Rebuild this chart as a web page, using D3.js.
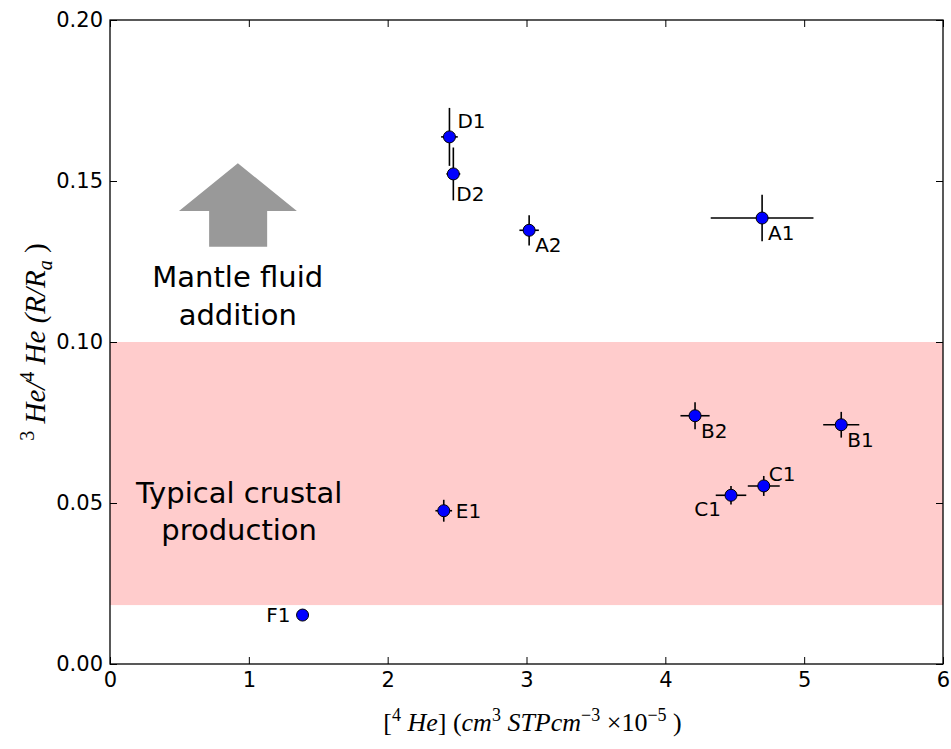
<!DOCTYPE html>
<html>
<head>
<meta charset="utf-8">
<script src="https://cdn.jsdelivr.net/npm/d3@7"></script>
<style>
  body { margin: 0; background: #fff; }
  svg { display: block; }
  .tick text { font-family: "DejaVu Sans", sans-serif; font-size: 21px; fill: #000; }
  .pt-label { font-family: "DejaVu Sans", sans-serif; font-size: 20px; }
  .note { font-family: "DejaVu Sans", sans-serif; font-size: 29px; }
  .math { font-family: "Liberation Serif", serif; font-style: italic; font-size: 26px; }
</style>
</head>
<body>
<script>
var labels = ["D1", "D2", "A2", "A1", "B2", "B1", "C1", "C1", "E1", "F1"]
var heConc = [2.445, 2.473, 3.019, 4.697, 4.214, 5.267, 4.709, 4.473, 2.404, 1.387]
var heConcErr = [0.06, 0.05, 0.07, 0.37, 0.105, 0.13, 0.115, 0.11, 0.06, 0]
var ratio = [0.1637, 0.1522, 0.1347, 0.1385, 0.0771, 0.0743, 0.0553, 0.0524, 0.0476, 0.0152]
var ratioErr = [0.009, 0.0082, 0.0047, 0.0072, 0.0042, 0.004, 0.0031, 0.0029, 0.0034, 0]

// where each annotation sits relative to its point
var labelSide = ["above", "belowtight", "below", "below", "below", "below", "upright", "belowleft", "right", "left"]

// crustal band limits and axis ticks
var crustBand = [0.0183, 0.10]
var xTicks = [0, 1, 2, 3, 4, 5, 6]
var yTicks = [0, 0.05, 0.10, 0.15, 0.20]

// mantle arrow outline in data units
var arrowTip = [0.921, 0.1555]
var arrowHead = [0.497, 1.346, 0.1407]
var arrowShaft = [0.714, 1.132, 0.1296]

var margin = { top: 20, right: 8, bottom: 85, left: 110 },
  width = 951 - margin.left - margin.right,
  height = 749 - margin.top - margin.bottom

var svg = d3.select("body").append("svg")
  .attr("width", 951)
  .attr("height", 749)

var g = svg.append("g")
  .attr("transform", "translate(" + margin.left + "," + margin.top + ")")

var x = d3.scaleLinear().domain([0, 6]).range([0, width])
var y = d3.scaleLinear().domain([0, 0.20]).range([height, 0])

// pink band for typical crustal production
g.append("rect")
  .attr("x", x(0))
  .attr("width", x(6) - x(0))
  .attr("y", y(crustBand[1]))
  .attr("height", y(crustBand[0]) - y(crustBand[1]))
  .style("fill", "#ffcccc")

// grey arrow
var arrowPts = [
  [arrowTip[0], arrowTip[1]],
  [arrowHead[1], arrowHead[2]],
  [arrowShaft[1], arrowHead[2]],
  [arrowShaft[1], arrowShaft[2]],
  [arrowShaft[0], arrowShaft[2]],
  [arrowShaft[0], arrowHead[2]],
  [arrowHead[0], arrowHead[2]]
]
g.append("polygon")
  .attr("points", arrowPts.map(function(p) { return x(p[0]) + "," + y(p[1]) }).join(" "))
  .style("fill", "#999999")

g.append("text").attr("class", "note")
  .attr("text-anchor", "middle")
  .attr("x", x(0.92)).attr("y", y(0.1172))
  .text("Mantle fluid")
g.append("text").attr("class", "note")
  .attr("text-anchor", "middle")
  .attr("x", x(0.92)).attr("y", y(0.1054))
  .text("addition")

g.append("text").attr("class", "note")
  .attr("text-anchor", "middle")
  .attr("x", x(0.93)).attr("y", y(0.0500))
  .text("Typical crustal")
g.append("text").attr("class", "note")
  .attr("text-anchor", "middle")
  .attr("x", x(0.93)).attr("y", y(0.0384))
  .text("production")

// data points with error bars
var data = labels.map(function(d, i) {
  return { name: d, x: heConc[i], xe: heConcErr[i], y: ratio[i], ye: ratioErr[i], side: labelSide[i] }
})

var pts = g.append("g").attr("class", "points")
  .selectAll("g")
  .data(data)
  .enter().append("g")

pts.filter(function(d) { return d.xe > 0 }).append("line")
  .attr("x1", function(d) { return x(d.x - d.xe) })
  .attr("x2", function(d) { return x(d.x + d.xe) })
  .attr("y1", function(d) { return y(d.y) })
  .attr("y2", function(d) { return y(d.y) })
  .style("stroke", "#000").style("stroke-width", 1.6)

pts.filter(function(d) { return d.ye > 0 }).append("line")
  .attr("x1", function(d) { return x(d.x) })
  .attr("x2", function(d) { return x(d.x) })
  .attr("y1", function(d) { return y(d.y - d.ye) })
  .attr("y2", function(d) { return y(d.y + d.ye) })
  .style("stroke", "#000").style("stroke-width", 1.6)

pts.append("circle")
  .attr("cx", function(d) { return x(d.x) })
  .attr("cy", function(d) { return y(d.y) })
  .attr("r", 6)
  .style("fill", "#0000ff")
  .style("stroke", "#000")
  .style("stroke-width", 1)

var offsets = {
  above: [8, -16, "start"],
  upright: [5, -12, "start"],
  below: [6, 15, "start"],
  belowtight: [3, 20, "start"],
  belowleft: [-10, 14, "end"],
  right: [12, 0, "start"],
  left: [-12, 0, "end"]
}

pts.append("text").attr("class", "pt-label")
  .attr("x", function(d) { return x(d.x) + offsets[d.side][0] })
  .attr("y", function(d) { return y(d.y) + offsets[d.side][1] })
  .attr("dy", "0.36em")
  .attr("text-anchor", function(d) { return offsets[d.side][2] })
  .text(function(d) { return d.name })

// axes, matplotlib style: ticks inward on all four sides
var fmtY = d3.format(".2f")

g.append("g").attr("class", "x axis")
  .attr("transform", "translate(0," + height + ")")
  .call(d3.axisBottom(x).tickValues(xTicks).tickFormat(d3.format("d")).tickSize(-7).tickPadding(8))
g.append("g").attr("class", "y axis")
  .call(d3.axisLeft(y).tickValues(yTicks).tickFormat(fmtY).tickSize(-7).tickPadding(7))
g.append("g").attr("class", "x2 axis")
  .call(d3.axisTop(x).tickValues(xTicks).tickFormat("").tickSize(-7))
g.append("g").attr("class", "y2 axis")
  .attr("transform", "translate(" + width + ",0)")
  .call(d3.axisRight(y).tickValues(yTicks).tickFormat("").tickSize(-7))

g.selectAll(".axis .domain").remove()
g.selectAll(".axis line").style("stroke", "#000").style("stroke-width", 1)

g.append("rect")
  .attr("width", width).attr("height", height)
  .style("fill", "none").style("stroke", "#000").style("stroke-width", 1.3)

// axis titles
var xl = svg.append("text").attr("class", "math")
  .attr("text-anchor", "middle")
  .attr("x", margin.left + x(3) + 6)
  .attr("y", 731)
xl.append("tspan").style("font-style", "normal").text("[")
xl.append("tspan").attr("dy", -10).style("font-size", "18px").style("font-style", "normal").text("4")
xl.append("tspan").attr("dy", 10).text(" He")
xl.append("tspan").style("font-style", "normal").text("] (")
xl.append("tspan").text("cm")
xl.append("tspan").attr("dy", -10).style("font-size", "18px").style("font-style", "normal").text("3")
xl.append("tspan").attr("dy", 10).text(" STPcm")
xl.append("tspan").attr("dy", -10).style("font-size", "18px").style("font-style", "normal").text("\u22123")
xl.append("tspan").attr("dy", 10).style("font-style", "normal").text(" \u00d710")
xl.append("tspan").attr("dy", -10).style("font-size", "18px").style("font-style", "normal").text("\u22125")
xl.append("tspan").attr("dy", 10).style("font-style", "normal").text(" )")

var yl = svg.append("text").attr("class", "math")
  .attr("text-anchor", "middle")
  .style("font-size", "29px")
  .attr("transform", "translate(45," + (margin.top + y(0.10)) + ") rotate(-90)")
yl.append("tspan").attr("dy", -11).style("font-size", "20px").style("font-style", "normal").text("3")
yl.append("tspan").attr("dy", 11).text(" He/")
yl.append("tspan").attr("dy", -11).style("font-size", "20px").style("font-style", "normal").text("4")
yl.append("tspan").attr("dy", 11).text(" He (")
yl.append("tspan").text("R/R")
yl.append("tspan").attr("dy", 7).style("font-size", "20px").text("a")
yl.append("tspan").attr("dy", -7).style("font-style", "normal").text(" )")
</script>
</body>
</html>
